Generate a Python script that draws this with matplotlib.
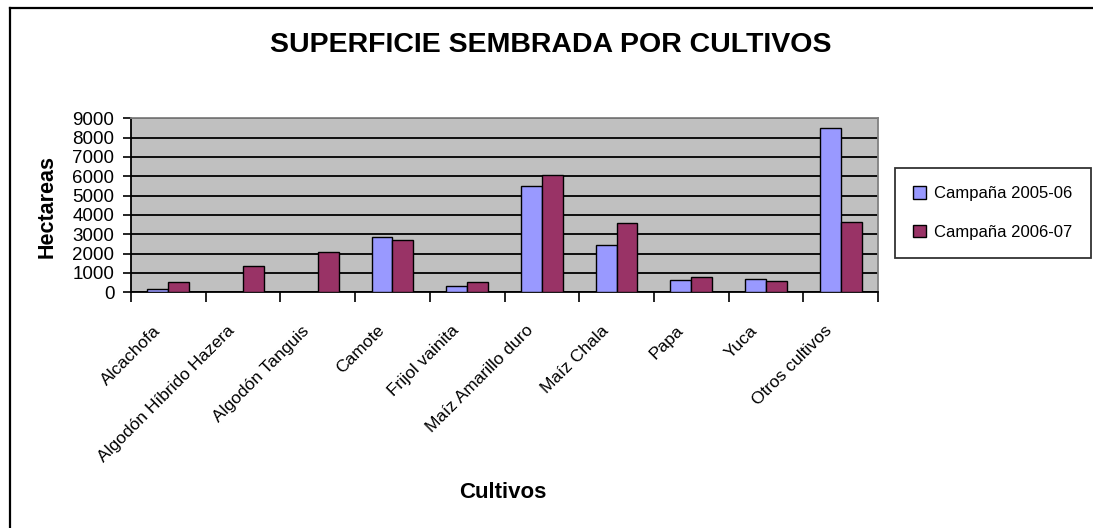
import matplotlib
matplotlib.use("Agg")
import matplotlib.pyplot as plt
from matplotlib.lines import Line2D
from matplotlib.transforms import ScaledTranslation
import numpy as np

plt.rcParams['font.family'] = ['Liberation Sans', 'DejaVu Sans']

categories = ["Alcachofa", "Algodón Híbrido Hazera", "Algodón Tanguis", "Camote",
              "Frijol vainita", "Maíz Amarillo duro", "Maíz Chala", "Papa", "Yuca",
              "Otros cultivos"]
serie_2005 = [150, 0, 0, 2850, 330, 5520, 2460, 620, 710, 8480]
serie_2006 = [540, 1360, 2080, 2730, 540, 6070, 3560, 810, 600, 3660]
series_labels = ["Campaña 2005-06", "Campaña 2006-07"]
yticks = [0, 1000, 2000, 3000, 4000, 5000, 6000, 7000, 8000, 9000]

W, H = 1093, 528
fig = plt.figure(figsize=(W/100, H/100), dpi=100)
ax = fig.add_axes([131/W, 1-292.3/H, (878-131)/W, (292.3-118.3)/H])
ax.set_facecolor('#C0C0C0')

x = np.arange(len(categories))
bw = 0.28
b1 = ax.bar(x - bw/2, serie_2005, bw, color='#9999FF', edgecolor='black', linewidth=1.0,
            label=series_labels[0], zorder=3)
b2 = ax.bar(x + bw/2, serie_2006, bw, color='#993366', edgecolor='black', linewidth=1.0,
            label=series_labels[1], zorder=3)

ax.set_xlim(-0.5, len(categories) - 0.5)
ax.set_ylim(0, 9000)
ax.set_yticks(yticks)
ax.set_yticklabels([str(v) for v in yticks], fontsize=13.5)
ax.yaxis.grid(True, color='black', linewidth=1.3, zorder=1)
ax.set_axisbelow(True)
ax.tick_params(axis='y', direction='out', length=6, width=1.2, pad=6)

ax.set_xticks(x)
ax.set_xticklabels(categories, rotation=45, ha='right', va='top', rotation_mode='anchor',
                   fontsize=12.5)
ax.tick_params(axis='x', which='major', length=0, pad=22)
offset = ScaledTranslation(-16/100, 0, fig.dpi_scale_trans)
for lab in ax.get_xticklabels():
    lab.set_transform(lab.get_transform() + offset)
ax.set_xticks(np.arange(len(categories) + 1) - 0.5, minor=True)
ax.tick_params(axis='x', which='minor', direction='out', length=7, width=1.2)

for s in ['left', 'bottom']:
    ax.spines[s].set_color('black')
    ax.spines[s].set_linewidth(1.3)
for s in ['top', 'right']:
    ax.spines[s].set_color('#808080')
    ax.spines[s].set_linewidth(1.3)

fig.text(551/W, 1-45/H, "SUPERFICIE SEMBRADA POR CULTIVOS", ha='center', va='center',
         fontsize=20.5, fontweight='bold')
fig.text(47/W, 1-207/H, "Hectareas", rotation=90, ha='center', va='center',
         fontsize=15.5, fontweight='bold')
fig.text(503/W, 1-492/H, "Cultivos", ha='center', va='center',
         fontsize=16, fontweight='bold')

leg = fig.legend(handles=[b1, b2], labels=series_labels, loc='center',
                 bbox_to_anchor=(993/W, 1-213/H), fontsize=12,
                 handlelength=0.75, handleheight=0.75, handletextpad=0.5,
                 labelspacing=1.4, borderpad=1.1, fancybox=False, frameon=True)
leg.get_frame().set_edgecolor('black')
leg.get_frame().set_linewidth(1.3)

fig.add_artist(Line2D([10/W, 10/W], [1-8/H, 0], transform=fig.transFigure,
                      color='black', linewidth=1.6))
fig.add_artist(Line2D([10/W, 1], [1-8/H, 1-8/H], transform=fig.transFigure,
                      color='black', linewidth=1.6))

fig.savefig("out.png", dpi=100, facecolor='white')
